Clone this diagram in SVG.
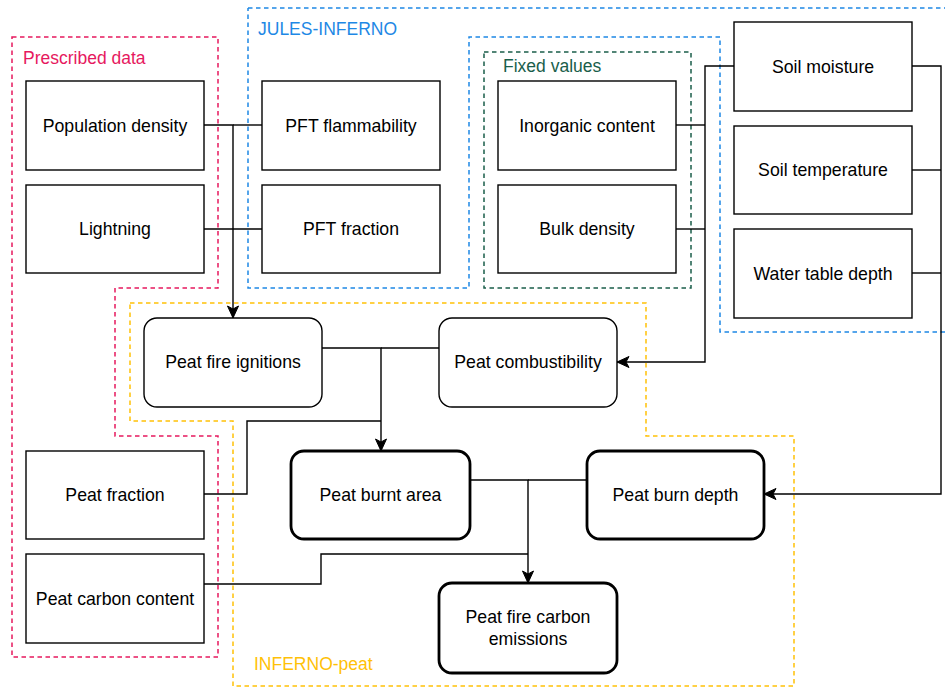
<svg xmlns="http://www.w3.org/2000/svg" width="945" height="687" viewBox="0 0 945 687">
<style>
.bg{fill:#ffffff}
.box{fill:#ffffff;stroke:#000000;stroke-width:1.4}
.rbox{fill:#ffffff;stroke:#000000;stroke-width:1.4}
.tbox{fill:#ffffff;stroke:#000000;stroke-width:2.8}
.t{font-family:"Liberation Sans",Arial,sans-serif;font-size:17.7px;fill:#000000;text-anchor:middle}
.lbl{font-family:"Liberation Sans",Arial,sans-serif;font-size:17.5px}
.grp{fill:none;stroke-width:1.5;stroke-dasharray:4.5 3.5}
.con{fill:none;stroke:#000000;stroke-width:1.4}
</style>
<defs>
<marker id="arr" markerUnits="userSpaceOnUse" markerWidth="14" markerHeight="14" viewBox="0 0 14 14" refX="13" refY="7" orient="auto">
<path d="M1,1.5 L13,7 L1,12.5 L4,7 Z" fill="#000000" stroke="#000000" stroke-width="1"/>
</marker>
</defs>
<rect class="bg" x="0" y="0" width="945" height="687"/>

<g id="groups">
<g id="grp-prescribed">
<path class="grp" stroke="#E6185E" d="M12,37 H218 V288 H115 V436 H218 V657 H12 Z"/>
<text class="lbl" x="23" y="64" fill="#E6185E">Prescribed data</text>
</g>
<g id="grp-jules">
<path class="grp" stroke="#1E88E5" d="M248,8 H947 M945,332 H720 V37 H469 V288 H248 V8"/>
<text class="lbl" x="258" y="35" fill="#1E88E5">JULES-INFERNO</text>
</g>
<g id="grp-fixed">
<rect class="grp" stroke="#1A5E4A" x="484" y="52" width="207" height="236"/>
<text class="lbl" x="503" y="72" fill="#1A5E4A">Fixed values</text>
</g>
<g id="grp-inferno-peat">
<path class="grp" stroke="#FFC107" d="M130,303 H646 V436 H794 V686 H233 V421 H130 Z"/>
<text class="lbl" x="254" y="670" fill="#FFC107">INFERNO-peat</text>
</g>
</g>

<g id="connectors">
<path class="con" d="M204,125 H233 V318" marker-end="url(#arr)"/>
<path class="con" d="M262,125 H233"/>
<path class="con" d="M204,229 H262"/>
<path class="con" d="M734,66 H705 V362 H617" marker-end="url(#arr)"/>
<path class="con" d="M676,125 H705"/>
<path class="con" d="M676,229 H705"/>
<path class="con" d="M912,66 H941 V494 H764" marker-end="url(#arr)"/>
<path class="con" d="M912,170 H941"/>
<path class="con" d="M912,273 H941"/>
<path class="con" d="M322,348 H381 V451" marker-end="url(#arr)"/>
<path class="con" d="M439,348 H381"/>
<path class="con" d="M204,494 H247 V421 H381"/>
<path class="con" d="M470,480 H528 V583" marker-end="url(#arr)"/>
<path class="con" d="M587,480 H528"/>
<path class="con" d="M204,584 H321 V554 H528"/>
</g>

<g id="n-population-density"><rect class="box" x="26" y="81" width="178" height="89"/><text class="t" x="115" y="131.5">Population density</text></g>
<g id="n-lightning"><rect class="box" x="26" y="185" width="178" height="88"/><text class="t" x="115" y="235">Lightning</text></g>
<g id="n-pft-flammability"><rect class="box" x="262" y="81" width="178" height="89"/><text class="t" x="351" y="131.5">PFT flammability</text></g>
<g id="n-pft-fraction"><rect class="box" x="262" y="185" width="178" height="88"/><text class="t" x="351" y="235">PFT fraction</text></g>
<g id="n-inorganic-content"><rect class="box" x="498" y="81" width="178" height="89"/><text class="t" x="587" y="131.5">Inorganic content</text></g>
<g id="n-bulk-density"><rect class="box" x="498" y="185" width="178" height="88"/><text class="t" x="587" y="235">Bulk density</text></g>
<g id="n-soil-moisture"><rect class="box" x="734" y="22" width="178" height="89"/><text class="t" x="823" y="72.5">Soil moisture</text></g>
<g id="n-soil-temperature"><rect class="box" x="734" y="126" width="178" height="88"/><text class="t" x="823" y="176">Soil temperature</text></g>
<g id="n-water-table-depth"><rect class="box" x="734" y="229" width="178" height="89"/><text class="t" x="823" y="279.5">Water table depth</text></g>
<g id="n-peat-fire-ignitions"><rect class="rbox" x="144" y="318" width="178" height="89" rx="13" ry="13"/><text class="t" x="233" y="368">Peat fire ignitions</text></g>
<g id="n-peat-combustibility"><rect class="rbox" x="439" y="318" width="178" height="89" rx="13" ry="13"/><text class="t" x="528" y="368">Peat combustibility</text></g>
<g id="n-peat-fraction"><rect class="box" x="26" y="451" width="178" height="88"/><text class="t" x="115" y="501">Peat fraction</text></g>
<g id="n-peat-carbon-content"><rect class="box" x="26" y="554" width="178" height="89"/><text class="t" x="115" y="604.5">Peat carbon content</text></g>
<g id="n-peat-burnt-area"><rect class="tbox" x="291" y="451" width="179" height="88" rx="13" ry="13"/><text class="t" x="380.5" y="501">Peat burnt area</text></g>
<g id="n-peat-burn-depth"><rect class="tbox" x="587" y="451" width="177" height="88" rx="13" ry="13"/><text class="t" x="675.5" y="501">Peat burn depth</text></g>
<g id="n-peat-fire-carbon-emissions"><rect class="tbox" x="439" y="583" width="178" height="90" rx="13" ry="13"/><text class="t" x="528" y="623">Peat fire carbon</text><text class="t" x="528" y="645">emissions</text></g>
</svg>
